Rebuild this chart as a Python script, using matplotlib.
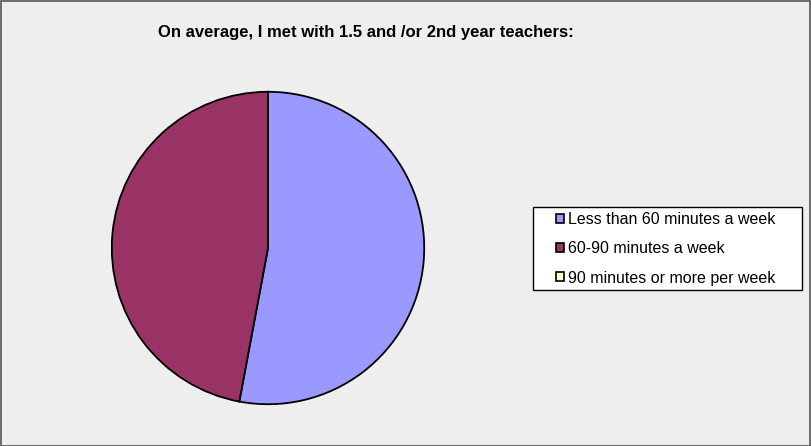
import matplotlib
matplotlib.use("Agg")
import matplotlib.pyplot as plt
from matplotlib.patches import Patch, Rectangle

plt.rcParams['font.family'] = ['Liberation Sans', 'DejaVu Sans']

labels = ["Less than 60 minutes a week", "60-90 minutes a week", "90 minutes or more per week"]
values = [9, 8, 0]
colors = ["#9999FF", "#993366", "#FFFFCC"]
title = "On average, I met with 1.5 and /or 2nd year teachers:"

W, H = 811, 446
fig = plt.figure(figsize=(W / 100, H / 100), dpi=100)
fig.patch.set_facecolor("#EEEEEE")
fig.patches.append(Rectangle((0.5 / W, 0.5 / H), 1 - 1.5 / W, 1 - 1.5 / H,
                             transform=fig.transFigure, fill=False,
                             edgecolor="#555555", linewidth=1.2))

# pie axes: center (268, 248), radius 157 px
cx, cy, r = 268, 248, 157
ax = fig.add_axes([(cx - r) / W, (H - cy - r) / H, 2 * r / W, 2 * r / H])
ax.pie(values, colors=colors, startangle=90, counterclock=False,
       wedgeprops=dict(edgecolor="black", linewidth=1.3), radius=1)
ax.set_xlim(-1.005, 1.005)
ax.set_ylim(-1.005, 1.005)
ax.set_aspect("equal")
ax.axis("off")

fig.text(366 / W, 1 - 33 / H, title, ha="center", va="center",
         fontsize=12, fontweight="bold")

# legend frame drawn by hand (box 533..802 x 207..290 px)
fig.patches.append(Rectangle((533 / W, 1 - 290 / H), 269 / W, 83 / H,
                             transform=fig.transFigure, facecolor="white",
                             edgecolor="black", linewidth=1, zorder=1))

handles = [Patch(facecolor=c, edgecolor="black", linewidth=1.2) for c in colors]
leg = fig.legend(handles, labels, loc="center left",
                 bbox_to_anchor=(556 / W, 1 - 249 / H),
                 frameon=False, fontsize=11.5,
                 handlelength=0.5, handleheight=0.5, handletextpad=0.25,
                 labelspacing=0.88, borderpad=0, borderaxespad=0)

fig.savefig("out.png", dpi=100, facecolor=fig.get_facecolor())
